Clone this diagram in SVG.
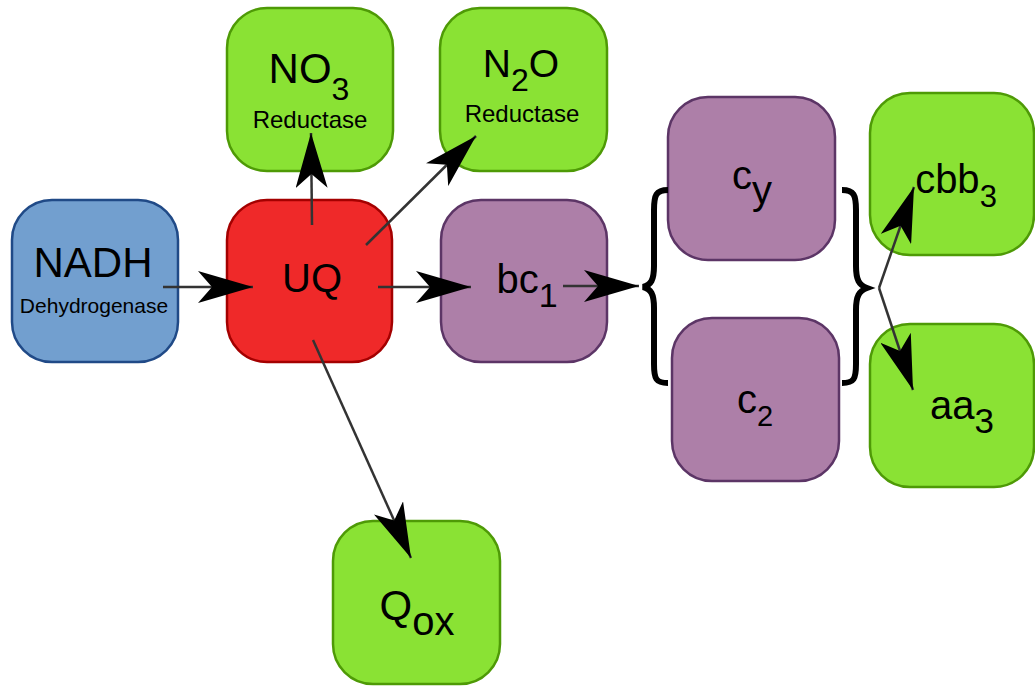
<svg xmlns="http://www.w3.org/2000/svg" width="1035" height="686" viewBox="0 0 1035 686">
<style>
.box{stroke-width:2.5}
.blue{fill:#729fcf;stroke:#204a87}
.red{fill:#ef2929;stroke:#a40000}
.purple{fill:#ad7fa8;stroke:#5c3566}
.green{fill:#8ae234;stroke:#4e9a06}
text{font-family:"Liberation Sans",Arial,sans-serif;fill:#000;text-anchor:middle}
.big{font-size:40px}
.sub{font-size:32px}
.small{font-size:21px}
.red2{font-size:24px}
.edge{stroke:#333;stroke-width:2.5;fill:none;marker-end:url(#arr)}
.brace{stroke:#000;stroke-width:6;fill:none;stroke-linecap:butt}
</style>
<defs>
<marker id="arr" markerUnits="userSpaceOnUse" viewBox="0 0 56 32" markerWidth="56" markerHeight="32" refX="55" refY="16" orient="auto">
<path d="M55,16 L0,0 L14,16 L0,32 Z" fill="#000"/>
</marker>
</defs>
<g id="NADH"><rect class="box blue" x="12" y="200" width="166" height="162" rx="40"/>
<text x="93" y="277" class="big" style="font-size:42px">NADH</text><text x="94" y="313" class="small">Dehydrogenase</text></g>
<g id="UQ"><rect class="box red" x="227" y="200" width="165" height="162" rx="40"/>
<text x="312" y="292" class="big">UQ</text></g>
<g id="NO3"><rect class="box green" x="227" y="8" width="166" height="163" rx="40"/>
<text x="309" y="83" class="big" style="font-size:42px">NO<tspan class="sub" dy="17">3</tspan></text><text x="310" y="128" class="red2">Reductase</text></g>
<g id="N2O"><rect class="box green" x="440" y="8" width="167" height="163" rx="40"/>
<text x="521" y="77" class="big" style="font-size:39px">N<tspan class="sub" dy="14">2</tspan><tspan dy="-14">O</tspan></text><text x="522" y="122" class="red2">Reductase</text></g>
<g id="bc1"><rect class="box purple" x="441" y="200" width="166" height="162" rx="40"/>
<text x="527" y="293" class="big">bc<tspan style="font-size:34px" dy="14">1</tspan></text></g>
<g id="cy"><rect class="box purple" x="668" y="97" width="167" height="163" rx="40"/>
<text x="752" y="189" class="big">c<tspan dy="15">y</tspan></text></g>
<g id="c2"><rect class="box purple" x="672" y="318" width="167" height="163" rx="40"/>
<text x="755" y="413" class="big">c<tspan style="font-size:29px" dy="13">2</tspan></text></g>
<g id="cbb3"><rect class="box green" x="870" y="93" width="164" height="162" rx="40"/>
<text x="956" y="193" class="big">cbb<tspan style="font-size:31px" dy="14">3</tspan></text></g>
<g id="aa3"><rect class="box green" x="870" y="324" width="164" height="163" rx="40"/>
<text x="962" y="419" class="big">aa<tspan style="font-size:35px" dy="14">3</tspan></text></g>
<g id="Qox"><rect class="box green" x="333" y="521" width="167" height="163" rx="40"/>
<text x="417" y="620" class="big" style="font-size:42px">Q<tspan style="font-size:40px" dy="15">ox</tspan></text></g>
<g id="braces">
<path class="brace" d="M668,190 C656,190 654,195 654,210 L654,266 C654,280 651,285 643,287 C651,289 654,294 654,308 L654,364 C654,379 656,383 668,383"/>
<path class="brace" d="M842,190 C854,190 856,195 856,210 L856,266 C856,280 859,285 867,288 C859,291 856,296 856,310 L856,364 C856,379 854,383 842,383"/>
</g>
<g id="connectors">
<line class="edge" x1="163" y1="287" x2="253" y2="287"/>
<line class="edge" x1="312" y1="225" x2="311" y2="133"/>
<line class="edge" x1="366" y1="245" x2="476" y2="136"/>
<line class="edge" x1="378" y1="287" x2="471" y2="287"/>
<line class="edge" x1="313" y1="340" x2="411" y2="558"/>
<line class="edge" x1="563" y1="286" x2="639" y2="286"/>
<line class="edge" x1="879" y1="288" x2="914" y2="187"/>
<line class="edge" x1="879" y1="288" x2="913" y2="390"/>
</g>
</svg>
